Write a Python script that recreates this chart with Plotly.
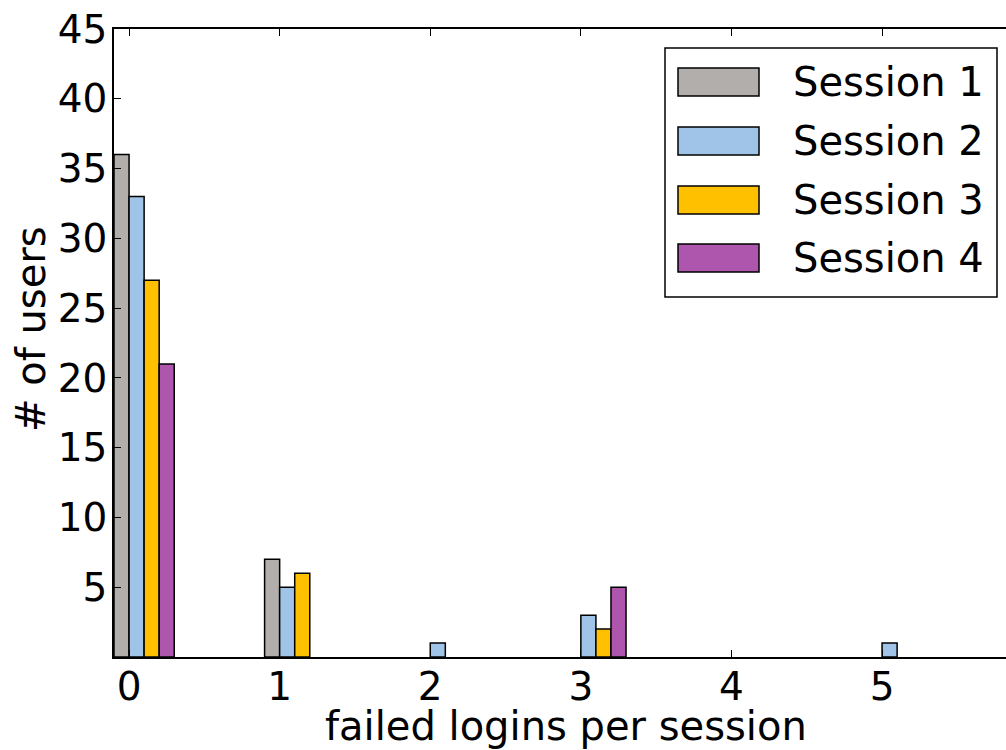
import plotly.graph_objects as go

failed_logins = [0, 1, 2, 3, 4, 5]
session_names = ["Session 1", "Session 2", "Session 3", "Session 4"]
session1 = [36, 7, 0, 0, 0, 0]
session2 = [33, 5, 1, 3, 0, 1]
session3 = [27, 6, 0, 2, 0, 0]
session4 = [21, 0, 0, 5, 0, 0]
colors = ["#b1aeac", "#9fc4e7", "#ffc000", "#ae56ae"]
y_ticks = [5, 10, 15, 20, 25, 30, 35, 40, 45]
x_label = "failed logins per session"
y_label = "# of users"

series = [session1, session2, session3, session4]
FONT = "DejaVu Sans"

fig = go.Figure()
bar_w = 0.1
for i, (name, vals) in enumerate(zip(session_names, series)):
    fig.add_trace(go.Bar(
        x=failed_logins, y=[v if v else None for v in vals], name=name,
        width=bar_w, offset=-0.1 + i * bar_w,
        marker=dict(color=colors[i], line=dict(color="black", width=1.5)),
        showlegend=False,
    ))

FW, FH = 1006, 750
# plot area in pixels
L, T, B = 114, 29, 657
W, H = FW - L, B - T
def px(x):
    return (x - L) / W
def py(y):
    return 1 - (y - T) / H

# manual legend (matplotlib-style large swatches)
shapes = [dict(type="rect", xref="paper", yref="paper",
               x0=px(665), x1=px(997), y0=py(297), y1=py(48),
               line=dict(color="black", width=1.5), fillcolor="white", layer="above")]
annotations = []
row_y = [82, 141, 200, 258]
for i, name in enumerate(session_names):
    yc = row_y[i]
    shapes.append(dict(type="rect", xref="paper", yref="paper",
                       x0=px(678), x1=px(759), y0=py(yc + 14), y1=py(yc - 14),
                       line=dict(color="black", width=1.5), fillcolor=colors[i], layer="above"))
    annotations.append(dict(xref="paper", yref="paper", x=px(791), y=py(yc),
                            text=name, showarrow=False, xanchor="left", yanchor="middle",
                            font=dict(family=FONT, size=40, color="black")))

# axis titles
annotations.append(dict(xref="paper", yref="paper", x=px(566), y=py(726),
                        text=x_label, showarrow=False, xanchor="center", yanchor="middle",
                        font=dict(family=FONT, size=40, color="black")))
annotations.append(dict(xref="paper", yref="paper", x=px(31), y=py(329),
                        text=y_label, showarrow=False, xanchor="center", yanchor="middle",
                        textangle=-90,
                        font=dict(family=FONT, size=40, color="black")))

fig.update_layout(
    width=FW, height=FH,
    margin=dict(l=L, r=0, t=T, b=FH - B, autoexpand=False),
    paper_bgcolor="white", plot_bgcolor="white",
    barmode="overlay",
    font=dict(family=FONT, size=40, color="black"),
    shapes=shapes, annotations=annotations,
)
fig.update_xaxes(
    range=[-0.1, -0.1 + W / 150.6],
    tickvals=failed_logins, ticktext=[str(v) for v in failed_logins],
    ticks="inside", ticklen=7, tickwidth=1, tickcolor="black",
    showline=True, linecolor="black", linewidth=1.5, mirror="ticks",
    showgrid=False, zeroline=False, automargin=False,
    ticklabelstandoff=-6, ticklabeloverflow="allow",
    tickfont=dict(family=FONT, size=39),
)
fig.update_yaxes(
    range=[0, 45],
    tickvals=y_ticks,
    ticks="inside", ticklen=7, tickwidth=1, tickcolor="black",
    showline=True, linecolor="black", linewidth=1.5, mirror=False,
    showgrid=False, zeroline=False, automargin=False,
    ticklabelstandoff=-3, ticklabeloverflow="allow",
    tickfont=dict(family=FONT, size=39),
)

fig.write_html("out.html",
               config={"displayModeBar": False},
               post_script="document.body.style.margin='0px';document.body.style.overflow='hidden';")
